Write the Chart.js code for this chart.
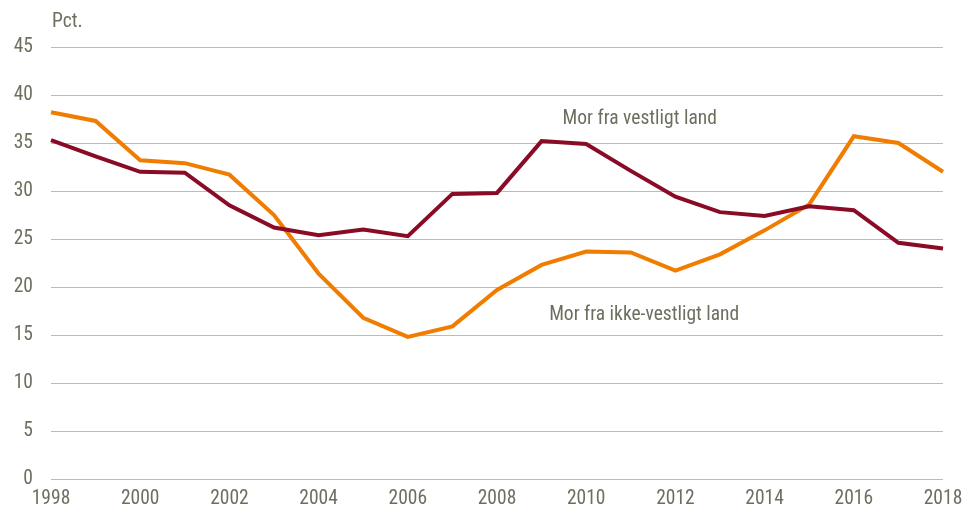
<!DOCTYPE html>
<html>
<head>
<meta charset="utf-8">
<script src="https://cdn.jsdelivr.net/npm/chart.js@4/dist/chart.umd.min.js"></script>
<style>
  html, body { margin: 0; padding: 0; background: #fff; }
  #wrap { width: 964px; height: 513px; }
</style>
</head>
<body>
<div id="wrap"><canvas id="chart"></canvas></div>
<script>
const years = ["1998","1999","2000","2001","2002","2003","2004","2005","2006","2007","2008",
               "2009","2010","2011","2012","2013","2014","2015","2016","2017","2018"];
const vestligt = [35.3, 33.6, 32.0, 31.9, 28.5, 26.2, 25.4, 26.0, 25.3, 29.7, 29.8,
                  35.2, 34.9, 32.1, 29.4, 27.8, 27.4, 28.4, 28.0, 24.6, 24.0];
const ikkeVestligt = [38.2, 37.3, 33.2, 32.9, 31.7, 27.5, 21.4, 16.8, 14.8, 15.9, 19.7,
                      22.3, 23.7, 23.6, 21.7, 23.4, 25.9, 28.6, 35.7, 35.0, 32.0];
const yTicks = [0, 5, 10, 15, 20, 25, 30, 35, 40, 45];
const unitLabel = "Pct.";
// x is the category index (0 = 1998)
const seriesLabels = [
    { text: "Mor fra vestligt land", x: 13.2, y: 37.5 },
    { text: "Mor fra ikke-vestligt land", x: 13.3, y: 17.1 }
];

const textColor = '#6e6e60';
const fontFamily = "'Roboto Condensed', 'Liberation Sans Narrow', 'Arial Narrow', sans-serif";
const fontSize = 19.5;

const labelPlugin = {
    id: 'labels',
    afterDraw(chart){
        const ctx = chart.ctx;
        const xs = chart.scales.x;
        const ys = chart.scales.y;
        ctx.save();
        ctx.fillStyle = textColor;
        ctx.font = fontSize + "px " + fontFamily;
        ctx.textBaseline = 'middle';
        ctx.textAlign = 'left';
        ctx.fillText(unitLabel, chart.chartArea.left + 1, 22);
        ctx.textAlign = 'center';
        seriesLabels.forEach(l => {
            ctx.fillText(l.text, xs.getPixelForValue(l.x), ys.getPixelForValue(l.y));
        });
        ctx.restore();
    }
};

new Chart(document.getElementById('chart'), {
    type: 'line',
    data: {
        labels: years,
        datasets: [{
            label: "Mor fra vestligt land",
            data: vestligt,
            borderColor: '#8a0b25',
            borderWidth: 4,
            pointRadius: 0,
            tension: 0,
            fill: false
        },
        {
            label: "Mor fra ikke-vestligt land",
            data: ikkeVestligt,
            borderColor: '#f07d00',
            borderWidth: 4,
            pointRadius: 0,
            tension: 0,
            fill: false
        }]
    },
    options: {
        responsive: true,
        maintainAspectRatio: false,
        animation: false,
        layout: { padding: { top: 47, left: 0, right: 0, bottom: 0 } },
        plugins: {
            legend: { display: false },
            tooltip: { enabled: false }
        },
        scales: {
            x: {
                grid: { display: false, drawTicks: false },
                border: { display: false },
                afterFit: s => { s.height = 34; s.paddingLeft = 0; s.paddingRight = 21; },
                ticks: {
                    autoSkip: false,
                    maxRotation: 0,
                    padding: 8,
                    color: textColor,
                    font: { family: fontFamily, size: fontSize },
                    callback: function(v, i){ return i % 2 === 0 ? this.getLabelForValue(v) : ''; }
                }
            },
            y: {
                min: 0,
                max: 45,
                afterBuildTicks: axis => { axis.ticks = yTicks.map(v => ({ value: v })); },
                afterFit: s => { s.width = 51; },
                grid: { color: '#bdbcb2', lineWidth: 1, drawTicks: false },
                border: { display: false },
                ticks: {
                    padding: 18,
                    color: textColor,
                    font: { family: fontFamily, size: fontSize }
                }
            }
        }
    },
    plugins: [labelPlugin]
});
</script>
</body>
</html>
